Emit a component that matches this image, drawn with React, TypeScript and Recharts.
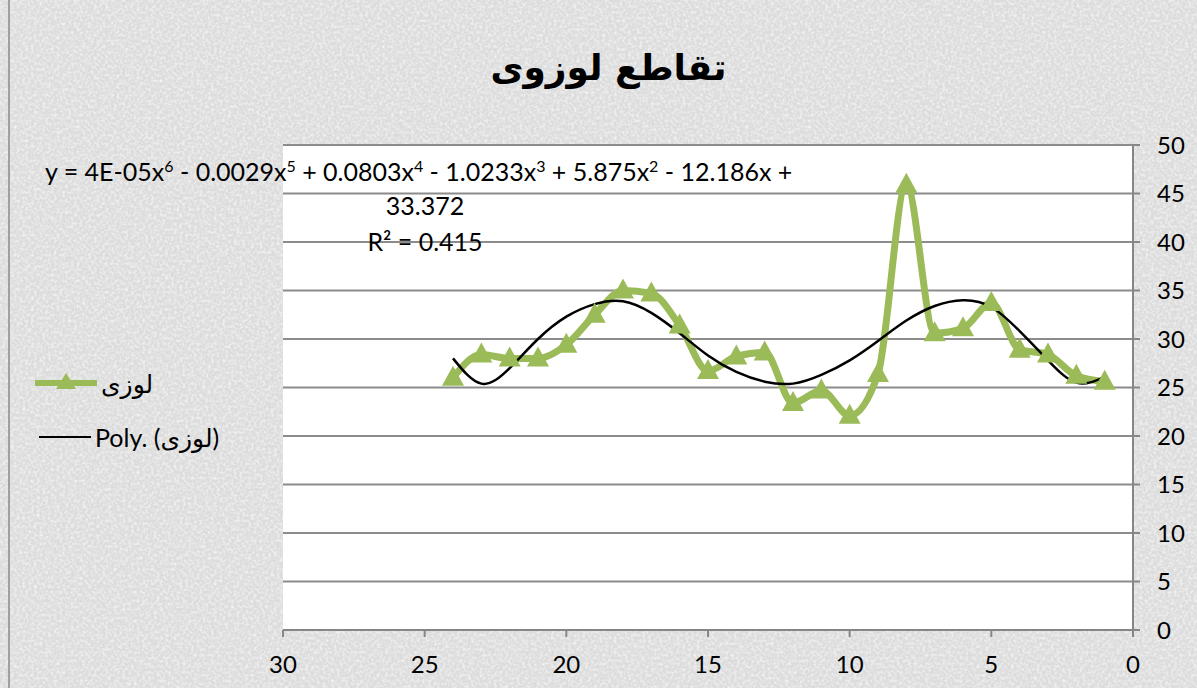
import { LineChart, Line, XAxis, YAxis, CartesianGrid } from 'recharts';

// x positions (Excel plots them reversed, 30 on the left)
const xs = [24, 23, 22, 21, 20, 19, 18, 17, 16, 15, 14, 13, 12, 11, 10, 9, 8, 7, 6, 5, 4, 3, 2, 1];
const lozi = [26.0, 28.4, 28.0, 28.0, 29.4, 32.5, 35.0, 34.7, 31.4, 26.7, 28.2, 28.6, 23.4, 24.7, 22.1, 26.4, 45.9, 30.6, 31.1, 33.7, 28.9, 28.4, 26.2, 25.6];
// polynomial trend
const trend = [28.0, 25.4, 27.0, 30.0, 32.3, 33.6, 33.9, 32.7, 30.6, 28.3, 26.6, 25.6, 25.4, 26.3, 27.8, 29.8, 31.9, 33.4, 34.0, 33.3, 30.8, 27.8, 25.5, 26.1];
const xTicks = [0, 5, 10, 15, 20, 25, 30];
const yTicks = [0, 5, 10, 15, 20, 25, 30, 35, 40, 45, 50];

const seriesName = 'لوزی';
const trendName = 'Poly. (لوزی)';
const title = 'تقاطع لوزوی';

const data = xs.map((x, i) => ({ x, lozi: lozi[i], trend: trend[i] }));

const GREEN = '#9bbb59';
const FONT = 'Lato, "Open Sans", "DejaVu Sans", sans-serif';

const Triangle = (props: any) => {
  const { cx, cy } = props;
  if (cx == null || cy == null) return null;
  return <path d={`M${cx},${cy - 12} L${cx + 11},${cy + 8} L${cx - 11},${cy + 8} Z`} fill={GREEN} />;
};

const sup = { fontSize: 16 };

export default function App() {
  return (
    <div style={{ position: 'absolute', left: 0, top: 0, width: 1197, height: 688, background: '#dcdcdc', overflow: 'hidden' }}>
      <svg width={1197} height={688} style={{ position: 'absolute', left: 0, top: 0 }}>
        <filter id="grain">
          <feTurbulence type="fractalNoise" baseFrequency="0.35" numOctaves={2} seed={3} />
          <feColorMatrix type="matrix" values="0 0 0 0 1  0 0 0 0 1  0 0 0 0 1  0 0 0 1.4 -0.55" />
        </filter>
        <rect width={1197} height={688} filter="url(#grain)" />
      </svg>
      <div style={{ position: 'absolute', left: 8, top: 0, width: 2, height: 688, background: '#a0a0a0' }} />
      <div style={{ position: 'absolute', left: 283, top: 145, width: 850, height: 485, background: '#fff' }} />
      <div style={{ position: 'absolute', left: 0, width: 1217, top: 47, textAlign: 'center', fontFamily: '"DejaVu Sans", sans-serif', fontWeight: 'bold', fontSize: 36 }}>
        {title}
      </div>
      <LineChart width={1197} height={688} data={data} margin={{ top: 145, right: 0, left: 283, bottom: 0 }} style={{ position: 'absolute', left: 0, top: 0 }}>
        <CartesianGrid vertical={false} stroke="#8c8c8c" strokeWidth={2} />
        <XAxis dataKey="x" type="number" domain={[0, 30]} ticks={xTicks} reversed height={58}
          stroke="#868686" strokeWidth={2} tickSize={7} tickMargin={19}
          tick={{ fill: '#000', fontSize: 24, fontFamily: FONT }} />
        <YAxis type="number" orientation="right" domain={[0, 50]} ticks={yTicks} width={64}
          stroke="#868686" strokeWidth={2} tickSize={7} tickMargin={17}
          tick={{ fill: '#000', fontSize: 24, fontFamily: FONT, textAnchor: 'start' }} />
        <Line dataKey="lozi" name={seriesName} type="monotone" stroke={GREEN} strokeWidth={7}
          dot={<Triangle />} activeDot={false} isAnimationActive={false} />
        <Line dataKey="trend" name={trendName} type="natural" stroke="#000" strokeWidth={2.5}
          dot={false} activeDot={false} isAnimationActive={false} />
      </LineChart>
      <div style={{ position: 'absolute', left: 45, top: 156, fontFamily: FONT, fontSize: 25, whiteSpace: 'nowrap' }}>
        y = 4E-05x<sup style={sup}>6</sup> - 0.0029x<sup style={sup}>5</sup> + 0.0803x<sup style={sup}>4</sup> - 1.0233x<sup style={sup}>3</sup> + 5.875x<sup style={sup}>2</sup> - 12.186x +
      </div>
      <div style={{ position: 'absolute', left: 325, width: 200, top: 190, textAlign: 'center', fontFamily: FONT, fontSize: 25 }}>33.372</div>
      <div style={{ position: 'absolute', left: 325, width: 200, top: 226, textAlign: 'center', fontFamily: FONT, fontSize: 25 }}>
        R² = 0.415
      </div>
      <div style={{ position: 'absolute', left: 33, top: 368, fontFamily: FONT, fontSize: 25, color: '#000' }}>
        <div style={{ display: 'flex', alignItems: 'center', height: 30 }}>
          <svg width={66} height={24}>
            <line x1={2} y1={12} x2={64} y2={12} stroke={GREEN} strokeWidth={6} />
            <path d="M33,2 L43,18 L23,18 Z" fill={GREEN} />
          </svg>
          <span style={{ marginLeft: 2 }}>{seriesName}</span>
        </div>
        <div style={{ display: 'flex', alignItems: 'center', height: 30, marginTop: 24 }}>
          <svg width={60} height={24}>
            <line x1={6} y1={12} x2={58} y2={12} stroke="#000" strokeWidth={2} />
          </svg>
          <span style={{ marginLeft: 2 }}>{trendName}</span>
        </div>
      </div>
    </div>
  );
}
